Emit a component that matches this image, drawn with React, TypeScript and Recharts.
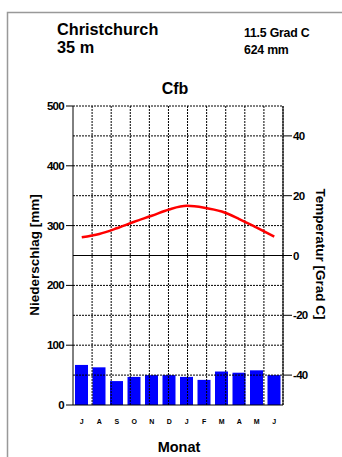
import {
  Bar,
  ComposedChart,
  Line,
  ReferenceLine,
  XAxis,
  YAxis
} from "recharts";

const months = ["J", "A", "S", "O", "N", "D", "J", "F", "M", "A", "M", "J"];
const precipitation = [67, 63, 40, 47, 50, 50, 47, 42, 56, 54, 58, 50];
const temperature = [6.1, 7.2, 9.1, 11.3, 13.3, 15.4, 16.6, 16.0, 14.7, 12.2, 9.3, 6.3];

const precipTicks = [0, 100, 200, 300, 400, 500];
const tempTicks = [-40, -20, 0, 20, 40];
const precipGrid = [50, 100, 150, 200, 300, 350, 400, 450, 500];
const monthBounds = [1, 2, 3, 4, 5, 6, 7, 8, 9, 10, 11];

const data = months.map((m, i) => ({
  month: m,
  precip: precipitation[i],
  temp: temperature[i]
}));

const font = '"Liberation Sans", Arial, Helvetica, sans-serif';
const tickStyle = { fill: "#000", fontSize: 11.5, fontWeight: 700, fontFamily: font, letterSpacing: -0.7 };

function MonthTick(props: any) {
  const { x, y, payload } = props;
  return (
    <text x={x} y={y + 19} textAnchor="middle" fontSize={7} fontWeight={700} fontFamily={font} fill="#000">
      {payload.value}
    </text>
  );
}

export default function App() {
  return (
    <div
      style={{
        position: "absolute",
        left: 0,
        top: 0,
        width: 342,
        height: 457,
        background: "#fff",
        fontFamily: font
      }}
    >
      <ComposedChart width={342} height={457} data={data} margin={{ top: 106, right: 0, bottom: 0, left: 0 }}>
        <XAxis
          dataKey="month"
          height={52}
          tickLine={false}
          tickSize={0}
          tickMargin={0}
          interval={0}
          axisLine={{ stroke: "#000", strokeWidth: 1 }}
          tick={<MonthTick />}
        />
        <XAxis xAxisId="grid" type="number" domain={[0, 12]} hide allowDataOverflow />
        <YAxis
          yAxisId="precip"
          domain={[0, 500]}
          ticks={precipTicks}
          width={73}
          tickSize={7}
          tickMargin={2}
          interval={0}
          axisLine={{ stroke: "#000" }}
          tickLine={{ stroke: "#000" }}
          tick={tickStyle}
        />
        <YAxis
          yAxisId="temp"
          orientation="right"
          domain={[-50, 50]}
          ticks={tempTicks}
          width={59}
          tickSize={9}
          tickMargin={1}
          interval={0}
          axisLine={{ stroke: "#000" }}
          tickLine={{ stroke: "#000" }}
          tick={tickStyle}
        />

        {precipGrid.map((v) => (
          <ReferenceLine key={"h" + v} y={v} yAxisId="precip" stroke="#000" strokeDasharray="2 1" strokeWidth={1} />
        ))}
        {monthBounds.map((v) => (
          <ReferenceLine
            key={"v" + v}
            x={v}
            xAxisId="grid"
            yAxisId="precip"
            stroke="#000"
            strokeDasharray="2 1"
            strokeWidth={1}
          />
        ))}
        <ReferenceLine y={250} yAxisId="precip" stroke="#000" strokeWidth={1} />

        <Bar dataKey="precip" yAxisId="precip" fill="#0000ff" barSize={13} isAnimationActive={false} />
        <Line
          dataKey="temp"
          yAxisId="temp"
          type="monotone"
          stroke="#ff0000"
          strokeWidth={2.5}
          dot={false}
          isAnimationActive={false}
        />
      </ComposedChart>

      <svg
        width={342}
        height={457}
        style={{ position: "absolute", left: 0, top: 0, pointerEvents: "none" }}
        fontFamily={font}
        fontWeight={700}
      >
        <rect x={7.5} y={12.5} width={400} height={500} fill="none" stroke="#999" strokeWidth={1.5} />
        <text x={57} y={35} fontSize={16.3}>Christchurch</text>
        <text x={57} y={53} fontSize={16.3}>35 m</text>
        <text x={244} y={37} fontSize={12.3} letterSpacing={-0.2}>11.5 Grad C</text>
        <text x={244} y={54} fontSize={12.3} letterSpacing={-0.2}>624 mm</text>
        <text x={175} y={94} fontSize={16} textAnchor="middle">Cfb</text>
        <text x={39} y={255} fontSize={13.5} textAnchor="middle" transform="rotate(-90 39 255)">
          Niederschlag [mm]
        </text>
        <text x={316} y={254} fontSize={13.5} textAnchor="middle" transform="rotate(90 316 254)">
          Temperatur [Grad C]
        </text>
        <text x={179} y={452} fontSize={14.5} textAnchor="middle">Monat</text>
      </svg>
    </div>
  );
}
